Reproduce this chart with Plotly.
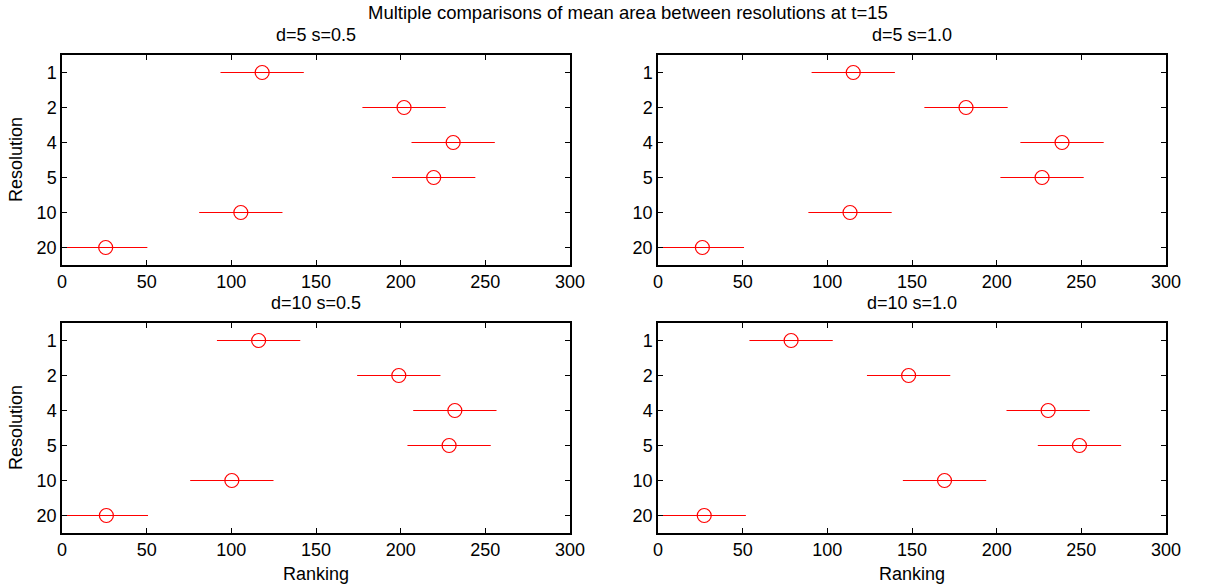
import plotly.graph_objects as go

W, H = 1208, 588
resolutions = ["1", "2", "4", "5", "10", "20"]
panel_titles = ["d=5 s=0.5", "d=5 s=1.0", "d=10 s=0.5", "d=10 s=1.0"]
mean_d5_s05 = [118.2, 202.0, 231.0, 219.5, 105.6, 25.8]
mean_d5_s10 = [115.3, 181.9, 238.6, 226.8, 113.4, 26.2]
mean_d10_s05 = [116.1, 198.9, 232.0, 228.6, 100.3, 26.2]
mean_d10_s10 = [78.6, 148.0, 230.4, 248.9, 169.2, 27.3]
half_width = [24.6, 24.6, 24.6, 24.6, 24.6, 24.6]
means = [mean_d5_s05, mean_d5_s10, mean_d10_s05, mean_d10_s10]
x_ticks = [0, 50, 100, 150, 200, 250, 300]

# axis boxes in pixels (left, right, top, bottom)
boxes = [(62, 570, 55, 265), (658, 1166, 55, 265),
         (62, 570, 323, 533), (658, 1166, 323, 533)]

fig = go.Figure()
FONT = "Liberation Sans, Arial, Helvetica, sans-serif"
FS = 18

for i, (m, box) in enumerate(zip(means, boxes)):
    k = "" if i == 0 else str(i + 1)
    fig.add_trace(go.Scatter(
        x=m, y=list(range(1, len(resolutions) + 1)),
        mode="markers",
        marker=dict(symbol="circle-open", size=14, color="#ff0000", line=dict(width=1.2, color="#ff0000")),
        error_x=dict(type="data", array=half_width, symmetric=True, width=0, thickness=1.2, color="#ff0000"),
        xaxis="x" + k, yaxis="y" + k, showlegend=False, cliponaxis=True,
    ))
    l, r, t, b = box
    xd = [l / W, r / W]
    yd = [1 - b / H, 1 - t / H]
    axcommon = dict(showline=True, linecolor="black", linewidth=1.5, mirror="allticks",
                    ticks="inside", ticklen=5, tickcolor="black", showgrid=False, zeroline=False,
                    automargin=False,
                    tickfont=dict(family=FONT, size=FS, color="black"))
    fig.layout["xaxis" + k] = dict(domain=xd, range=[0, 300], tickvals=x_ticks,
                                   anchor="y" + k, **axcommon)
    fig.layout["yaxis" + k] = dict(domain=yd, range=[6.5, 0.5], tickvals=list(range(1, 7)),
                                   ticktext=resolutions, anchor="x" + k, **axcommon)
    fig.add_annotation(text=panel_titles[i], x=(l + r) / 2 / W, y=1 - (t - 8) / H,
                       xref="paper", yref="paper", xanchor="center", yanchor="bottom",
                       showarrow=False, font=dict(family=FONT, size=FS, color="black"))
    if i >= 2:
        fig.add_annotation(text="Ranking", x=(l + r) / 2 / W, y=1 - (b + 29) / H,
                           xref="paper", yref="paper", xanchor="center", yanchor="top",
                           showarrow=False, font=dict(family=FONT, size=FS, color="black"))
    if i % 2 == 0:
        fig.add_annotation(text="Resolution", x=16 / W, y=1 - (t + b) / 2 / H,
                           xref="paper", yref="paper", xanchor="center", yanchor="middle",
                           textangle=-90, showarrow=False,
                           font=dict(family=FONT, size=FS, color="black"))

fig.add_annotation(text="Multiple comparisons of mean area between resolutions at t=15",
                   x=628 / W, y=1 - 0 / H, xref="paper", yref="paper", xanchor="center", yanchor="top",
                   showarrow=False, font=dict(family=FONT, size=18.5, color="black"))

fig.update_layout(width=W, height=H, margin=dict(l=0, r=0, t=0, b=0),
                  plot_bgcolor="white", paper_bgcolor="white", template="none")
fig.write_html("out.html")
